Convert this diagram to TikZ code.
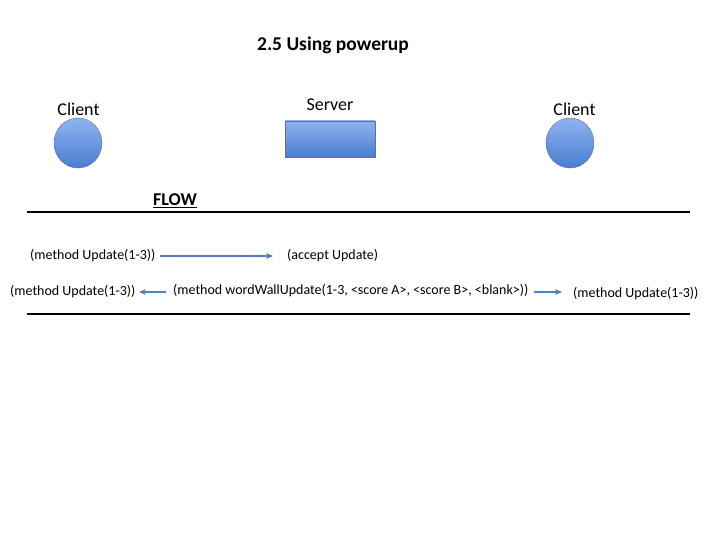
\documentclass[tikz,border=0pt]{standalone}
\usepackage{fontspec}
\setmainfont{Carlito}
\usetikzlibrary{arrows.meta,shapes.geometric}

\tikzset{
	peer/.style={ellipse, minimum width=48pt, minimum height=50pt, draw=blue!45!black!60,
		top color={rgb,255:red,142;green,180;blue,240}, bottom color={rgb,255:red,72;green,125;blue,208}},
	host/.style={rectangle, minimum width=90pt, minimum height=36pt, draw=blue!45!black!60,
		top color={rgb,255:red,142;green,180;blue,240}, bottom color={rgb,255:red,72;green,125;blue,208}},
	lab/.style={font=\fontsize{18}{20}\selectfont},
	msg/.style={font=\fontsize{14}{16}\selectfont, inner sep=0pt},
	flowarrow/.style={-{Stealth[length=7pt,width=6pt]}, line width=1.4pt, color={rgb,255:red,79;green,129;blue,189}},
	rule/.style={line width=1.3pt}
}

\begin{document}
\begin{tikzpicture}[x=1pt,y=-1pt]
	\useasboundingbox (0,0) rectangle (720,540);

	\node[font=\fontsize{19.5}{22}\selectfont\bfseries] (title) at (333,45) {2.5 Using powerup};

	\node[peer] (c1) at (78,143) {};
	\node[host] (srv) at (330,139) {};
	\node[peer] (c2) at (570,143) {};
	\node[lab] (c1lab) at (78.5,109) {Client};
	\node[lab] (srvlab) at (330,105) {Server};
	\node[lab] (c2lab) at (574.5,109) {Client};

	\node[font=\fontsize{18}{20}\selectfont\bfseries] (flow) at (175,201) {\underline{FLOW}};
	\draw[rule] (27,212) coordinate (r1a) -- (690,212) coordinate (r1b);

	% client sends its move
	\node[msg, anchor=west] (m1) at (30,256) {(method Update(1-3))};
	\node[msg, anchor=west] (a1) at (287,256) {(accept Update)};
	\coordinate (p1) at (160,256);
	\coordinate (p2) at (273,256);
	\draw[flowarrow] (p1) -- (p2);

	% server answers both clients
	\node[msg, anchor=west] (m2) at (10,292) {(method Update(1-3))};
	\node[msg, anchor=west] (w2) at (173,291) {(method wordWallUpdate(1-3, <score A>, <score B>, <blank>))};
	\node[msg, anchor=west] (m3) at (573,294) {(method Update(1-3))};
	\coordinate (p3) at (166,292);
	\coordinate (p4) at (139,292);
	\coordinate (p5) at (534,292);
	\coordinate (p6) at (562,292);
	\draw[flowarrow] (p3) -- (p4);
	\draw[flowarrow] (p5) -- (p6);

	\draw[rule] (27,314) coordinate (r2a) -- (690,314) coordinate (r2b);
\end{tikzpicture}
\end{document}
